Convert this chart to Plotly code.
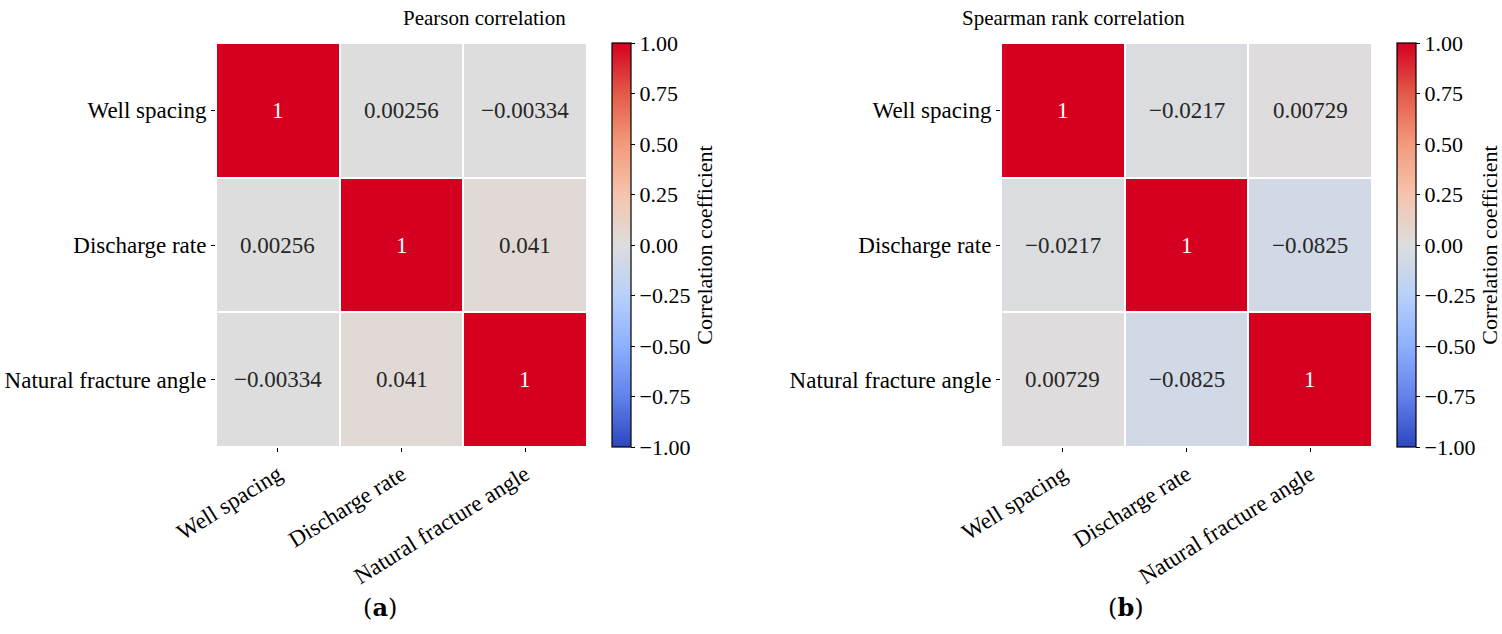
import plotly.graph_objects as go

labels = ["Well spacing", "Discharge rate", "Natural fracture angle"]
pearson = [[1.0, 0.00256, -0.00334],
           [0.00256, 1.0, 0.041],
           [-0.00334, 0.041, 1.0]]
spearman = [[1.0, -0.0217, 0.00729],
            [-0.0217, 1.0, -0.0825],
            [0.00729, -0.0825, 1.0]]
titles = ["Pearson correlation", "Spearman rank correlation"]
panel_labels = ["(<b>a</b>)", "(<b>b</b>)"]
cbar_ticks = [-1.0, -0.75, -0.5, -0.25, 0.0, 0.25, 0.5, 0.75, 1.0]

FONT = "Liberation Serif"
colorscale = [
    [0.0, "rgb(45,70,190)"],
    [0.125, "rgb(98,130,234)"],
    [0.25, "rgb(141,176,254)"],
    [0.375, "rgb(184,208,249)"],
    [0.5, "rgb(221,221,221)"],
    [0.625, "rgb(245,196,173)"],
    [0.75, "rgb(244,154,123)"],
    [0.875, "rgb(226,90,72)"],
    [1.0, "rgb(213,0,32)"],
]

W, H = 1502, 634
panels = [
    dict(x0=216, x1=587, cb=612),
    dict(x0=1001, x1=1372, cb=1397),
]
ytop, ybot = 43, 447

def fmt(v):
    return "{:.3g}".format(v).replace("-", "\u2212")

def fmt2(v):
    return "{:.2f}".format(v).replace("-", "\u2212")

fig = go.Figure()
annotations = []
for i, (mat, p) in enumerate(zip([pearson, spearman], panels)):
    xa = "x" if i == 0 else "x2"
    ya = "y" if i == 0 else "y2"
    fig.add_trace(go.Heatmap(
        z=mat, x=labels, y=labels, xaxis=xa, yaxis=ya,
        zmin=-1, zmax=1, colorscale=colorscale, xgap=2, ygap=2,
        hoverinfo="skip",
        colorbar=dict(
            x=p["cb"] / W, xanchor="left", xref="paper",
            y=1 - (ytop + ybot) / 2 / H, yanchor="middle",
            len=ybot - ytop, lenmode="pixels",
            thickness=19, thicknessmode="pixels",
            outlinecolor="black", outlinewidth=1.2,
            tickvals=cbar_ticks,
            ticktext=[fmt2(t) for t in cbar_ticks],
            ticks="outside", ticklen=4, tickcolor="black",
            tickfont=dict(family=FONT, size=22, color="black"),
            title=dict(text="Correlation coefficient", side="right",
                       font=dict(family=FONT, size=22, color="black")),
            xpad=0, ypad=0,
        ),
    ))
    for r, row in enumerate(mat):
        for c, v in enumerate(row):
            annotations.append(dict(
                x=labels[c], y=labels[r], xref=xa, yref=ya, text=fmt(v),
                showarrow=False,
                font=dict(family=FONT, size=23,
                          color="white" if abs(v) > 0.5 else "#262626"),
            ))
    annotations.append(dict(
        x=(p["x0"] + p["x1"]) / 2 / W, y=1 - 18 / H, xref="paper", yref="paper",
        text=titles[i], showarrow=False, yanchor="middle",
        font=dict(family=FONT, size=21, color="black"),
    ))
    annotations.append(dict(
        x=(p["x0"] + p["x1"]) / 2 / W - 0.027, y=1 - 607 / H, xref="paper", yref="paper",
        text=panel_labels[i], showarrow=False, yanchor="middle",
        font=dict(family="DejaVu Serif", size=24, color="black"),
    ))

axis_common = dict(
    type="category", ticks="outside", ticklen=4, tickcolor="black",
    tickfont=dict(family=FONT, size=23, color="black"),
    showgrid=False, zeroline=False, showline=False, automargin=False,
)
ydom = [1 - ybot / H, 1 - ytop / H]
fig.update_layout(
    width=W, height=H,
    margin=dict(l=0, r=0, t=0, b=0, autoexpand=False),
    paper_bgcolor="white", plot_bgcolor="white",
    xaxis=dict(domain=[panels[0]["x0"] / W, panels[0]["x1"] / W], anchor="y",
               tickangle=-32, **axis_common),
    yaxis=dict(domain=ydom, anchor="x", autorange="reversed", **axis_common),
    xaxis2=dict(domain=[panels[1]["x0"] / W, panels[1]["x1"] / W], anchor="y2",
                tickangle=-32, **axis_common),
    yaxis2=dict(domain=ydom, anchor="x2", autorange="reversed", **axis_common),
    annotations=annotations,
    showlegend=False,
)

fig.write_html("out.html")
